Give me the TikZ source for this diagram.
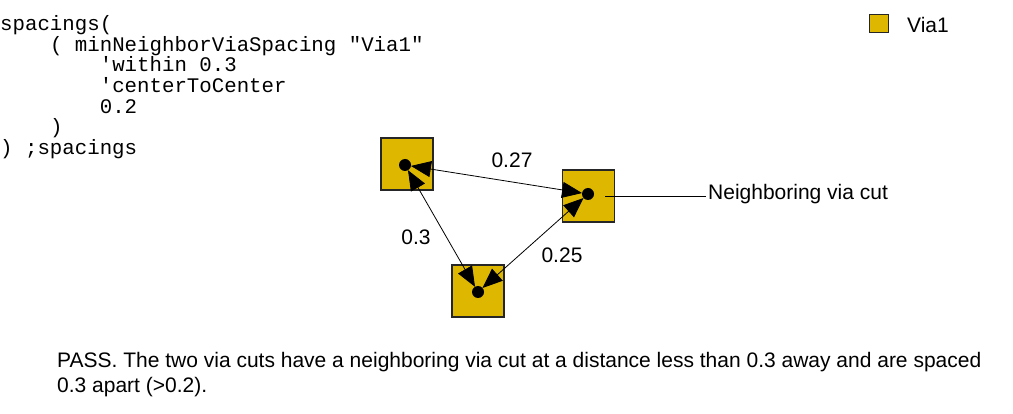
\documentclass[tikz,border=0pt]{standalone}
\usepackage{fontspec}
\setmainfont{Liberation Sans}
\setmonofont{Liberation Mono}
\usetikzlibrary{arrows.meta}

\begin{document}
\begin{tikzpicture}[x=1pt,y=-1pt]
\definecolor{cvia}{rgb}{0.867,0.718,0.0}
\definecolor{cdraw}{rgb}{0.15,0.15,0.15}
\definecolor{cedge}{rgb}{0.0,0.0,0.0}
\useasboundingbox (0,0) rectangle (1013,414);
%
\node[style={anchor=north west,inner sep=0pt,align=left,font=\ttfamily\fontsize{20.75}{20.6}\selectfont}] (code) at (0,15.5) {spacings(\\
\hphantom{xxxx}( minNeighborViaSpacing "Via1"\\
\hphantom{xxxxxxxx}'within 0.3\\
\hphantom{xxxxxxxx}'centerToCenter\\
\hphantom{xxxxxxxx}0.2\\
\hphantom{xxxx})\\
) ;spacings};
%
\node[style={minimum width=19pt,minimum height=18pt,draw=cdraw,line width=1pt,fill=cvia,shape=rectangle,inner sep=0pt}] (key) at (878.5,24) {};
\node[style={anchor=west,inner sep=0pt,font=\fontsize{21}{21}\selectfont}] (keyl) at (907,25) {Via1};
%
\node[style={minimum size=52pt,draw=cdraw,line width=1.2pt,fill=cvia,shape=rectangle,inner sep=0pt}] (via1) at (407,164) {};
\node[style={minimum size=52pt,draw=cdraw,line width=1.2pt,fill=cvia,shape=rectangle,inner sep=0pt}] (via2) at (588.5,196) {};
\node[style={minimum size=52pt,draw=cdraw,line width=1.2pt,fill=cvia,shape=rectangle,inner sep=0pt}] (via3) at (478,291) {};
%
\node[style={shape=circle,fill=black,minimum size=12pt,inner sep=0pt,outer sep=0pt}] (c1) at (405,165) {};
\node[style={shape=circle,fill=black,minimum size=12pt,inner sep=0pt,outer sep=0pt}] (c2) at (588,194) {};
\node[style={shape=circle,fill=black,minimum size=12pt,inner sep=0pt,outer sep=0pt}] (c3) at (478,292) {};
%
\draw[line width=0.8pt,style={color=cedge},{Triangle[length=20pt,width=16pt]}-{Triangle[length=20pt,width=16pt]}] (c1) -- (c2);
\draw[line width=0.8pt,style={color=cedge},{Triangle[length=20pt,width=16pt]}-{Triangle[length=20pt,width=16pt]}] (c1) -- (c3);
\draw[line width=0.8pt,style={color=cedge},{Triangle[length=20pt,width=16pt]}-{Triangle[length=20pt,width=16pt]}] (c3) -- (c2);
%
\node[style={font=\fontsize{21}{21}\selectfont,inner sep=0pt}] (l27) at (512,160) {0.27};
\node[style={font=\fontsize{21}{21}\selectfont,inner sep=0pt}] (l3) at (416,237) {0.3};
\node[style={font=\fontsize{21}{21}\selectfont,inner sep=0pt}] (l25) at (562,255) {0.25};
%
\coordinate (lead) at (605,196);
\node[style={anchor=west,inner sep=2pt,font=\fontsize{21}{21}\selectfont}] (nbr) at (706,194) {Neighboring via cut};
\draw[line width=0.8pt] (lead) -- (lead -| nbr.west);
%
\node[style={anchor=north west,inner sep=0pt,align=left,font=\fontsize{21}{25}\selectfont}] (note) at (57,352.5) {PASS. The two via cuts have a neighboring via cut at a distance less than 0.3 away and are spaced\\
0.3 apart (>0.2).};
%
\end{tikzpicture}
\end{document}
